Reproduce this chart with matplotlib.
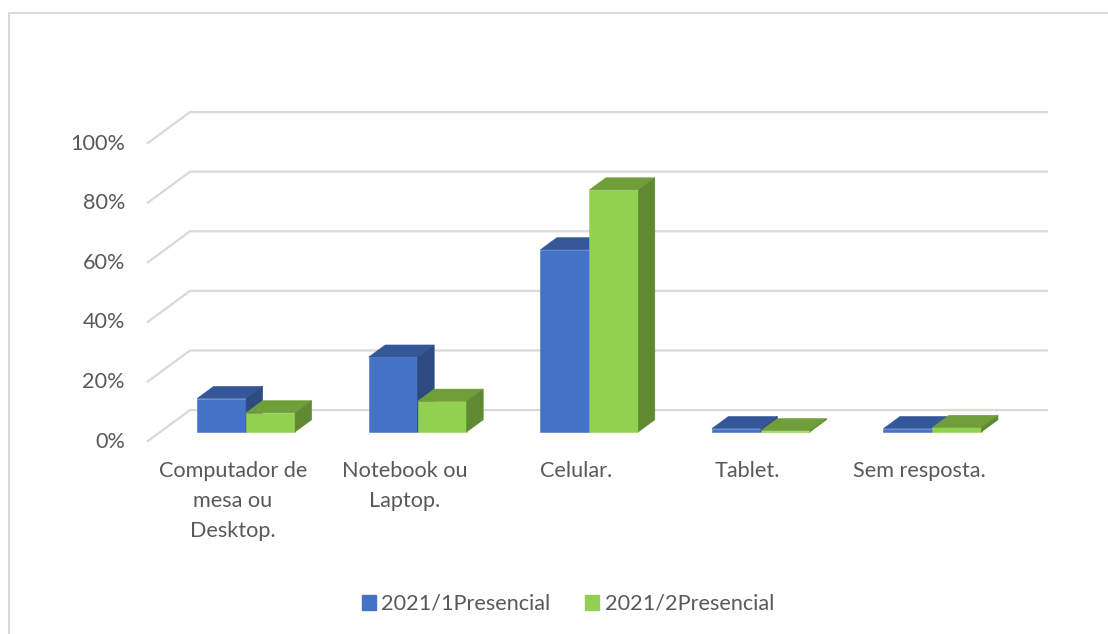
import matplotlib.pyplot as plt
from matplotlib.patches import Patch, Rectangle

# values (fractions)
categories = ["Computador de\nmesa ou\nDesktop.", "Notebook ou\nLaptop.", "Celular.",
              "Tablet.", "Sem resposta."]
series_names = ["2021/1Presencial", "2021/2Presencial"]
s1 = [0.112, 0.251, 0.611, 0.011, 0.011]
s2 = [0.064, 0.103, 0.812, 0.004, 0.015]
yticks = [0, 0.2, 0.4, 0.6, 0.8, 1.0]
ytick_labels = ["0%", "20%", "40%", "60%", "80%", "100%"]

# colours: front, top, side
blue = ("#4472C4", "#335799", "#2C4B80")
green = ("#92D050", "#6F9E3A", "#5F8A31")
grid_c = "#D9D9D9"
text_c = "#595959"

plt.rcParams['font.family'] = ['Lato', 'DejaVu Sans']
fs = 15.6

# layout (pixels) of the oblique projection
W, H = 1108, 634
cat_px = 171.6          # pixels per category
y_px = 298.0            # pixels per 100%
x0_px, y0_px = 160.3, 431.9   # bar front plane origin
DX, DY = 43 / cat_px, 31.6 / y_px   # full floor depth in data units
front_f, back_f = -0.31, 0.69
bar_d = 0.384
bar_w = 0.2856

fig = plt.figure(figsize=(W / 100, H / 100), dpi=100)
ax = fig.add_axes([0, 0, 1, 1])
ax.set_xlim(-x0_px / cat_px, (W - x0_px) / cat_px)
ax.set_ylim(-(H - y0_px) / y_px, y0_px / y_px)
ax.axis("off")

# gridlines: left wall diagonal + back wall horizontal
fx, fy = front_f * DX, front_f * DY
bx, by = back_f * DX, back_f * DY
for t, lab in zip(yticks, ytick_labels):
    ax.plot([fx, bx, bx + len(categories)], [t + fy, t + by, t + by],
            color=grid_c, lw=1.6, solid_capstyle="butt", zorder=1)
    ax.text(fx - 22 / cat_px, t + fy, lab, ha="right", va="center",
            fontsize=fs, color=text_c)


def bar3d(x, w, h, cols):
    ox, oy = bar_d * DX, bar_d * DY
    kw = dict(lw=0.4, zorder=3)
    ax.fill([x, x + w, x + w, x], [0, 0, h, h], color=cols[0], ec=cols[0], **kw)
    ax.fill([x, x + w, x + w + ox, x + ox], [h, h, h + oy, h + oy],
            color=cols[1], ec=cols[1], **kw)
    ax.fill([x + w, x + w + ox, x + w + ox, x + w], [0, oy, h + oy, h],
            color=cols[2], ec=cols[2], **kw)


for i, cat in enumerate(categories):
    c = i + 0.5
    bar3d(c - bar_w, bar_w, s1[i], blue)
    bar3d(c, bar_w, s2[i], green)
    ax.text(c + fx, fy - 19 / y_px, cat, ha="center", va="top",
            fontsize=fs, color=text_c, linespacing=1.62)

handles = [Patch(color=blue[0]), Patch(color=green[0])]
fig.legend(handles, series_names, loc="center", ncol=2, frameon=False,
           bbox_to_anchor=(568 / W, 1 - 604 / H), fontsize=fs,
           labelcolor=text_c, handlelength=0.65, handleheight=0.65,
           handletextpad=0.25, columnspacing=1.6)

# chart border (cropped on right and bottom)
fig.patches.append(Rectangle((8.5 / W, -0.1), 2, 1.1 - 13 / H, transform=fig.transFigure,
                             fill=False, ec=grid_c, lw=1.5))

fig.savefig("out.png", dpi=100)
